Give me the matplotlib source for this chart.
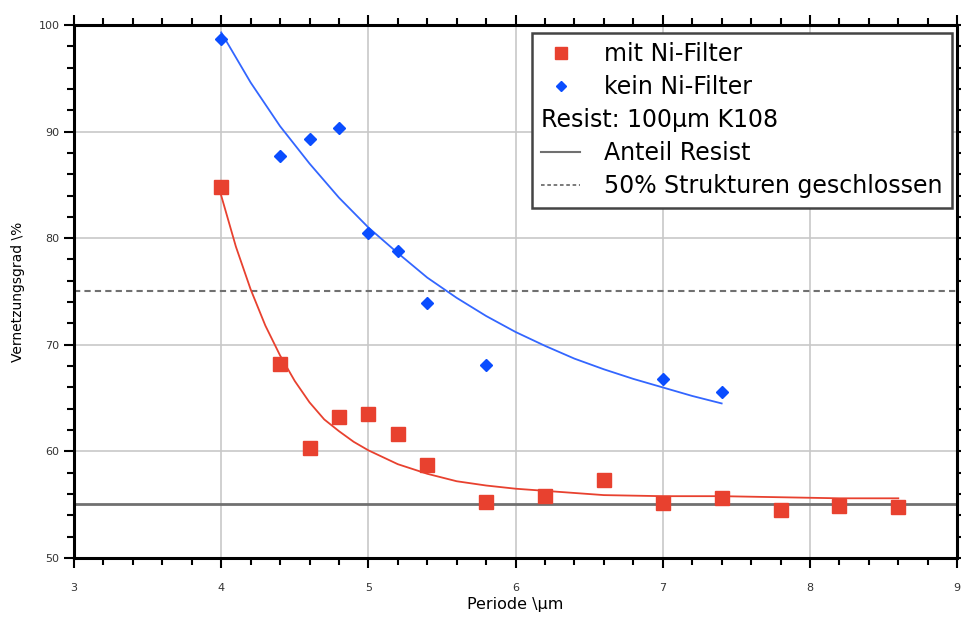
import matplotlib
matplotlib.use("Agg")
import matplotlib.pyplot as plt
from matplotlib.lines import Line2D
from matplotlib.ticker import MultipleLocator

# Data points
x_mit = [4.0, 4.4, 4.6, 4.8, 5.0, 5.2, 5.4, 5.8, 6.2, 6.6, 7.0, 7.4, 7.8, 8.2, 8.6]
y_mit = [84.8, 68.2, 60.3, 63.2, 63.5, 61.6, 58.7, 55.3, 55.8, 57.3, 55.2, 55.6, 54.5, 54.9, 54.8]
x_kein = [4.0, 4.4, 4.6, 4.8, 5.0, 5.2, 5.4, 5.8, 7.0, 7.4]
y_kein = [98.7, 87.7, 89.3, 90.3, 80.5, 78.8, 73.9, 68.1, 66.8, 65.6]

# Fit curves
fx_mit = [4.0, 4.1, 4.2, 4.3, 4.4, 4.5, 4.6, 4.7, 4.8, 4.9, 5.0, 5.2, 5.4, 5.6, 5.8, 6.0, 6.2, 6.4, 6.6, 7.0, 7.4, 7.8, 8.2, 8.6]
fy_mit = [84.0, 79.2, 75.2, 71.8, 69.0, 66.6, 64.6, 63.0, 61.9, 60.9, 60.1, 58.8, 57.9, 57.2, 56.8, 56.5, 56.3, 56.1, 55.9, 55.8, 55.8, 55.7, 55.6, 55.6]
fx_kein = [4.0, 4.2, 4.4, 4.6, 4.8, 5.0, 5.2, 5.4, 5.6, 5.8, 6.0, 6.2, 6.4, 6.6, 6.8, 7.0, 7.2, 7.4]
fy_kein = [99.3, 94.6, 90.5, 87.0, 83.8, 81.0, 78.6, 76.3, 74.4, 72.7, 71.2, 69.9, 68.7, 67.7, 66.8, 66.0, 65.2, 64.5]

resist_level = 55.1
closed_level = 75.0

xlim = (3, 9)
ylim = (50, 100)
xticks = [3, 4, 5, 6, 7, 8, 9]
yticks = [50, 60, 70, 80, 90, 100]

labels = ["mit Ni-Filter", "kein Ni-Filter", "Resist: 100µm K108",
          "Anteil Resist", "50% Strukturen geschlossen"]

red = "#e8412f"
blue = "#0a4dff"
blue_line = "#3366ff"
gray = "#707070"

fig = plt.figure(figsize=(9.61, 6.17), dpi=100)
ax = fig.add_axes([0.077, 0.0956, 0.919, 0.864])

ax.set_xlim(*xlim)
ax.set_ylim(*ylim)
ax.set_xticks(xticks)
ax.set_yticks(yticks)
ax.xaxis.set_minor_locator(MultipleLocator(0.2))
ax.yaxis.set_minor_locator(MultipleLocator(2))
ax.grid(True, which="major", color="#c8c8c8", linewidth=1.2)
ax.set_axisbelow(True)

ax.tick_params(which="both", direction="out", top=True, right=True,
               labeltop=False, labelright=False, width=1.5, labelsize=8,
               labelcolor="#333333")
ax.tick_params(which="major", length=7)
ax.tick_params(which="minor", length=5)
ax.tick_params(axis="x", pad=11)
for s in ax.spines.values():
    s.set_linewidth(2.2)

ax.axhline(resist_level, color=gray, linewidth=2)
ax.axhline(closed_level, color=gray, linewidth=1.5, linestyle=(0, (3, 2)))

ax.plot(fx_mit, fy_mit, color=red, linewidth=1.3)
ax.plot(fx_kein, fy_kein, color=blue_line, linewidth=1.3)
ax.plot(x_mit, y_mit, linestyle="none", marker="s", markersize=9.5, color=red)
ax.plot(x_kein, y_kein, linestyle="none", marker="D", markersize=6, color=blue)

ax.set_xlabel("Periode \\µm", fontsize=11.5, labelpad=3)
ax.set_ylabel("Vernetzungsgrad \\%", fontsize=10, labelpad=10)

handles = [
    Line2D([], [], linestyle="none", marker="s", markersize=8, color=red),
    Line2D([], [], linestyle="none", marker="D", markersize=5, color=blue),
    Line2D([], [], linestyle="none"),
    Line2D([], [], color=gray, linewidth=1.5),
    Line2D([], [], color=gray, linewidth=1.3, linestyle=(0, (2, 1.5))),
]
leg_labels = [labels[0], labels[1], " ", labels[3], labels[4]]
leg = ax.legend(handles, leg_labels, loc="upper right", bbox_to_anchor=(0.994, 0.985),
                fontsize=17, frameon=True, fancybox=False, edgecolor="#444444",
                framealpha=1, borderpad=0.4, labelspacing=0.38, handlelength=1.65,
                handletextpad=1.0, borderaxespad=0)
leg.get_frame().set_linewidth(1.8)

# Place the text-only entry aligned with the handle column
fig.canvas.draw()
r = fig.canvas.get_renderer()
hb = leg.legend_handles[3].get_window_extent(r)
tb = leg.get_texts()[2].get_window_extent(r)
ymid = (tb.y0 + tb.y1) / 2
x_fig = hb.x0 / fig.bbox.width
y_fig = ymid / fig.bbox.height
fig.text(x_fig, y_fig, labels[2], fontsize=17, va="center", ha="left", zorder=10)

fig.savefig("out.png", dpi=100)
